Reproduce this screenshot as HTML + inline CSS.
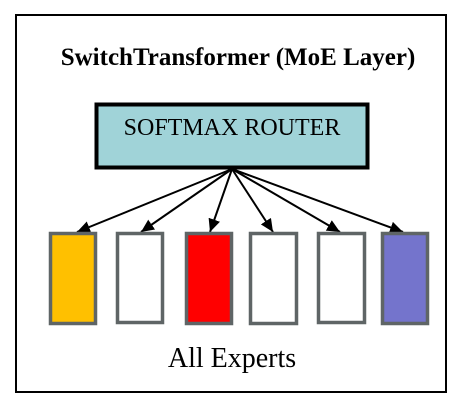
<!DOCTYPE html>
<html><head><style>
body{margin:0;width:464px;height:410px;background:#fff;overflow:hidden}
</style></head><body>
<svg width="464" height="410" xmlns="http://www.w3.org/2000/svg" font-family="Liberation Serif, serif">
<defs><marker id="a" markerWidth="14" markerHeight="14" refX="13" refY="6" orient="auto" markerUnits="userSpaceOnUse"><path d="M0,0 L13,6 L0,12 z" fill="#000"/></marker></defs>
<rect x="16" y="15" width="430" height="377" fill="#fff" stroke="#000" stroke-width="2"/>
<text x="238" y="65" font-size="25" font-weight="bold" text-anchor="middle">SwitchTransformer (MoE Layer)</text>
<rect x="96.5" y="104.5" width="271" height="63" fill="#a0d3d8" stroke="#000" stroke-width="4"/>
<text x="232" y="135" font-size="24" text-anchor="middle">SOFTMAX ROUTER</text>
<g stroke="#000" stroke-width="2" marker-end="url(#a)">
<line x1="232" y1="169" x2="77" y2="232"/>
<line x1="232" y1="169" x2="141" y2="232"/>
<line x1="232" y1="169" x2="210" y2="232"/>
<line x1="232" y1="169" x2="273" y2="232"/>
<line x1="232" y1="169" x2="340" y2="232"/>
<line x1="232" y1="169" x2="403" y2="232"/>
</g>
<g stroke="#5f6566" stroke-width="3.5">
<rect x="50.5" y="233.5" width="45" height="90" fill="#ffc000"/>
<rect x="117.5" y="233.5" width="45" height="89" fill="#fff"/>
<rect x="186.5" y="233.5" width="45" height="90" fill="#ff0000"/>
<rect x="250.5" y="233.5" width="46" height="90" fill="#fff"/>
<rect x="318.5" y="233.5" width="46" height="89" fill="#fff"/>
<rect x="382.5" y="233.5" width="45" height="90" fill="#7474cc"/>
</g>
<text x="232" y="367" font-size="28" text-anchor="middle">All Experts</text>
</svg>
</body></html>
